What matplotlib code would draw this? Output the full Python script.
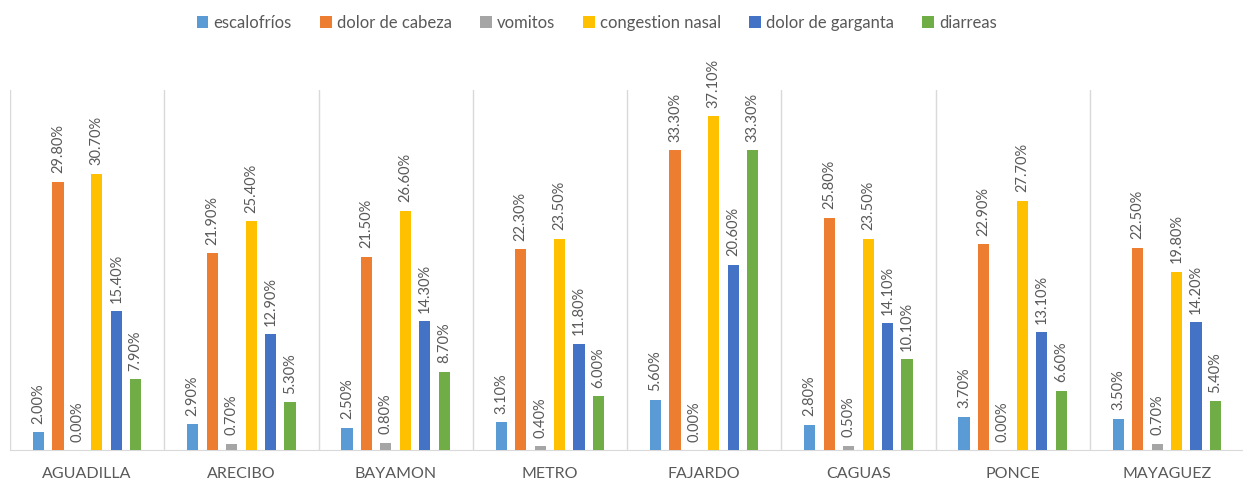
import numpy as np
import matplotlib
matplotlib.use("Agg")
from matplotlib import pyplot as plt

plt.rcParams['font.family'] = ['Lato', 'DejaVu Sans']

regiones = ["AGUADILLA", "ARECIBO", "BAYAMON", "METRO", "FAJARDO", "CAGUAS", "PONCE", "MAYAGUEZ"]
series = ["escalofríos", "dolor de cabeza", "vomitos", "congestion nasal", "dolor de garganta", "diarreas"]

escalofrios = [2.0, 2.9, 2.5, 3.1, 5.6, 2.8, 3.7, 3.5]
dolor_cabeza = [29.8, 21.9, 21.5, 22.3, 33.3, 25.8, 22.9, 22.5]
vomitos = [0.0, 0.7, 0.8, 0.4, 0.0, 0.5, 0.0, 0.7]
congestion = [30.7, 25.4, 26.6, 23.5, 37.1, 23.5, 27.7, 19.8]
dolor_garganta = [15.4, 12.9, 14.3, 11.8, 20.6, 14.1, 13.1, 14.2]
diarreas = [7.9, 5.3, 8.7, 6.0, 33.3, 10.1, 6.6, 5.4]

valores = [escalofrios, dolor_cabeza, vomitos, congestion, dolor_garganta, diarreas]
colores = ["#5B9BD5", "#ED7D31", "#A5A5A5", "#FFC000", "#4472C4", "#70AD47"]
gris = "#595959"

fig = plt.figure(figsize=(12.43, 4.83), dpi=100)
ax = fig.add_axes([10 / 1243, 33 / 483, 1234 / 1243, 360 / 483])

x = np.arange(len(regiones))
paso = 0.126
ancho = 0.072

for i, (nombre, vals, c) in enumerate(zip(series, valores, colores)):
    pos = x + (i - 2.5) * paso
    ax.bar(pos, vals, width=ancho, color=c, label=nombre, zorder=3)
    for p, v in zip(pos, vals):
        ax.annotate(f"{v:.2f}%", (p, v), xytext=(0, 6), textcoords="offset points",
                    rotation=90, ha="center", va="bottom", fontsize=10.5, color=gris)

ax.set_xlim(-0.5, len(regiones) - 0.5)
ax.set_ylim(0, 40)

# separadores verticales entre regiones
for b in np.arange(len(regiones) + 1) - 0.5:
    ax.axvline(b, color="#D9D9D9", lw=1, zorder=1)

for s in ["top", "right", "left"]:
    ax.spines[s].set_visible(False)
ax.spines["bottom"].set_color("#D9D9D9")
ax.set_yticks([])
ax.set_xticks(x)
ax.set_xticklabels(regiones, fontsize=11.5, color=gris)
ax.tick_params(axis="x", length=0, pad=12)

fig.legend(loc="upper center", bbox_to_anchor=(0.48, 1.0), ncol=6, frameon=False,
           fontsize=12, labelcolor=gris, handlelength=0.7, handleheight=0.7,
           handletextpad=0.3, columnspacing=1.7)

fig.savefig("out.png", dpi=100)
